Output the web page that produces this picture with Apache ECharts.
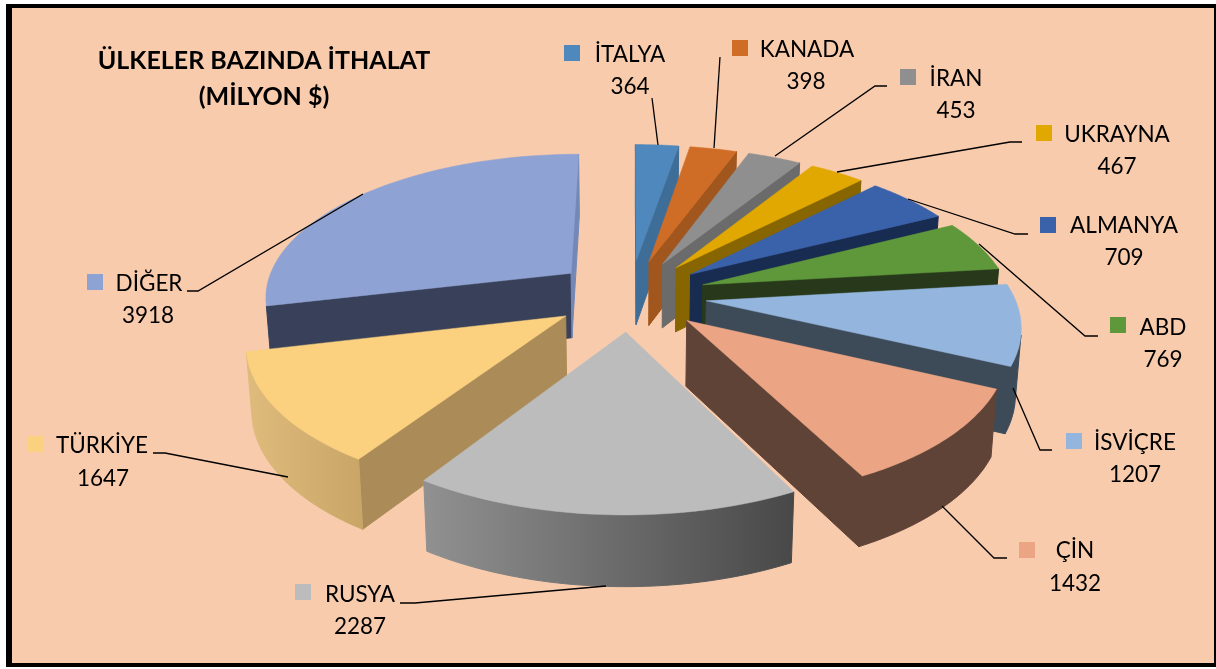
<!DOCTYPE html>
<html>
<head>
<meta charset="utf-8">
<title>Ülkeler Bazında İthalat</title>
<script src="https://cdn.jsdelivr.net/npm/echarts@6/dist/echarts.min.js"></script>
<style>
html, body { margin: 0; padding: 0; background: #fff; }
#main { width: 1216px; height: 669px; }
</style>
</head>
<body>
<div id="main"></div>
<script type="text/javascript">
// data, clockwise from the top of the pie
var countries = ['İTALYA', 'KANADA', 'İRAN', 'UKRAYNA', 'ALMANYA', 'ABD', 'İSVİÇRE', 'ÇİN', 'RUSYA', 'TÜRKİYE', 'DİĞER'];
var values = [364, 398, 453, 467, 709, 769, 1207, 1432, 2287, 1647, 3918];

// colours
var topColors = ['#4E88BC', '#CF6D26', '#8F8F8F', '#E0A800', '#3A62AB', '#5F983A', '#94B6DE', '#EBA584', '#BCBCBC', '#FBD07E', '#8EA2D4'];
var wallColors = ['#3E6E98', '#A0561C', '#6B6B6B', '#876500', '#182C52', '#27391A', '#3D4A58', '#604337', '#6B6B6B', '#AB8C58', '#39415A'];
var rimLeftColors = ['#3E6E98', '#A0561C', '#6B6B6B', '#876500', '#182C52', '#27391A', '#3D4A58', '#604337', '#919191', '#DFBC7C', '#7488B8'];
var rimRightColors = ['#3E6E98', '#A0561C', '#6B6B6B', '#876500', '#182C52', '#27391A', '#3D4A58', '#604337', '#484848', '#C9A667', '#7488B8'];
var endWallColors = ['#3E6E98', '#A0561C', '#6B6B6B', '#876500', '#182C52', '#27391A', '#3D4A58', '#604337', '#6B6B6B', '#AB8C58', '#7488B8'];

// 3d pie projection
var centerX = 630, centerY = 295;
var radiusX = 307.5, radiusY = 143;
var perspective = 0.15;
var explode = 0.25;
var depth = 65;

// label layout: key square, name centre, value centre, leader line
var labelLayout = [
    { key: [572, 53], name: [630, 55], value: [630, 87], line: [[652, 98], [658, 145]] },
    { key: [740, 48], name: [807, 50], value: [806, 82], line: [[720, 57], [714, 148]] },
    { key: [908, 77], name: [956, 79], value: [956, 111], line: [[887, 86], [875, 86], [775, 156]] },
    { key: [1044, 133], name: [1117, 135], value: [1117, 167], line: [[1022, 142], [1010, 142], [837, 172]] },
    { key: [1048, 225], name: [1124, 226], value: [1124, 258], line: [[1028, 234], [1015, 234], [908, 199]] },
    { key: [1118, 325], name: [1163, 328], value: [1163, 360], line: [[1098, 336], [1085, 336], [979, 244]] },
    { key: [1074, 441], name: [1135, 443], value: [1135, 475], line: [[1052, 450], [1040, 450], [1013, 388]] },
    { key: [1027, 550], name: [1075, 551], value: [1075, 584], line: [[1007, 558], [994, 558], [942, 506]] },
    { key: [303, 592], name: [360, 595], value: [360, 627], line: [[400, 603], [415, 603], [606, 586]] },
    { key: [36, 444], name: [102, 446], value: [103, 479], line: [[153, 453], [165, 453], [288, 477]] },
    { key: [95, 282], name: [149, 284], value: [148, 316], line: [[187, 291], [198, 291], [363, 194]] }
];

var total = 0;
for (var t = 0; t < values.length; t++) {
    total += values[t];
}

function project(u, v, down) {
    var w = 1 / (1 - perspective * v);
    var x = centerX + radiusX * u * w;
    var y = centerY + radiusY * v * w;
    if (down) {
        x = centerX + (x - centerX) * 0.985;
        y += depth * (1 + 0.45 * (w - 1));
    }
    return [x, y];
}

function signedArea(p) {
    var s = 0;
    for (var i = 0; i < p.length; i++) {
        var q = p[(i + 1) % p.length];
        s += p[i][0] * q[1] - q[0] * p[i][1];
    }
    return s;
}

function sliceRange(index) {
    var before = 0;
    for (var i = 0; i < index; i++) {
        before += values[i];
    }
    return [before / total * Math.PI * 2, (before + values[index]) / total * Math.PI * 2];
}

function polygon(points, fill, z2, width) {
    return {
        type: 'polygon',
        z2: z2,
        shape: { points: points },
        style: { fill: fill, stroke: fill, lineWidth: width }
    };
}

// back slices first, so nearer ones cover them
function depthRank(index) {
    var r = sliceRange(index);
    var mid = (r[0] + r[1]) / 2;
    return -Math.cos(mid);
}

function renderSlice(params, api) {
    var index = api.value(0);
    var r = sliceRange(index);
    var mid = (r[0] + r[1]) / 2;
    var offU = explode * Math.sin(mid);
    var offV = -explode * Math.cos(mid);
    var rank = Math.round((depthRank(index) + 1) * 100);

    var rimTop = [], rimBottom = [];
    var steps = 48;
    for (var i = 0; i <= steps; i++) {
        var a = r[0] + (r[1] - r[0]) * i / steps;
        var u = offU + Math.sin(a);
        var v = offV - Math.cos(a);
        rimTop.push(project(u, v, false));
        rimBottom.push(project(u, v, true));
    }
    var apexTop = project(offU, offV, false);
    var apexBottom = project(offU, offV, true);

    var children = [];

    // start wall
    var startWall = [apexTop, rimTop[0], rimBottom[0], apexBottom];
    if (signedArea(startWall) < 0) {
        children.push(polygon(startWall, wallColors[index], rank * 10 + 1, 1));
    }
    // end wall
    var endWall = [rimTop[steps], apexTop, apexBottom, rimBottom[steps]];
    if (signedArea(endWall) < 0) {
        children.push(polygon(endWall, endWallColors[index], rank * 10 + 1, 1));
    }
    // outer wall, only the part that faces the viewer
    var rimPoints = [];
    var rimBack = [];
    for (var j = 0; j < steps; j++) {
        var seg = [rimTop[j], rimTop[j + 1], rimBottom[j + 1], rimBottom[j]];
        if (signedArea(seg) < 0) {
            if (!rimPoints.length) {
                rimPoints.push(rimTop[j]);
                rimBack.push(rimBottom[j]);
            }
            rimPoints.push(rimTop[j + 1]);
            rimBack.push(rimBottom[j + 1]);
        }
    }
    if (rimPoints.length) {
        var rimFill = rimLeftColors[index];
        if (rimLeftColors[index] !== rimRightColors[index]) {
            rimFill = new echarts.graphic.LinearGradient(0, 0, 1, 0, [
                { offset: 0, color: rimLeftColors[index] },
                { offset: 1, color: rimRightColors[index] }
            ]);
        }
        var rimShape = rimPoints.concat(rimBack.reverse());
        children.push(polygon(rimShape, rimFill, rank * 10 + 2, 1));
    }
    // top face
    var topFace = [apexTop].concat(rimTop);
    children.push(polygon(topFace, topColors[index], rank * 10 + 3, 0.5));

    return { type: 'group', children: children };
}

var sliceOrder = [];
for (var n = 0; n < values.length; n++) {
    sliceOrder.push(n);
}
sliceOrder.sort(function (a, b) { return depthRank(a) - depthRank(b); });

var labelFont = 'Lato, "Open Sans", sans-serif';
// frame: heavy on the left, thin on the right
var graphics = [{
    type: 'rect',
    z: 0,
    shape: { x: 6, y: 4, width: 1210, height: 663 },
    style: { fill: '#000' }
}, {
    type: 'rect',
    z: 1,
    shape: { x: 12, y: 8, width: 1202, height: 655 },
    style: { fill: '#F8CBAD' }
}];

function addLabel(index) {
    var l = labelLayout[index];
    graphics.push({
        type: 'rect',
        z: 5,
        shape: { x: l.key[0] - 8, y: l.key[1] - 8, width: 16, height: 16 },
        style: { fill: topColors[index] }
    });
    graphics.push({
        type: 'polyline',
        z: 5,
        shape: { points: l.line },
        style: { fill: null, stroke: '#000', lineWidth: 1.3 }
    });
    graphics.push({
        type: 'text',
        z: 6,
        style: {
            x: l.name[0], y: l.name[1], text: countries[index], fill: '#000',
            font: '22.5px ' + labelFont, textAlign: 'center', textVerticalAlign: 'middle'
        }
    });
    graphics.push({
        type: 'text',
        z: 6,
        style: {
            x: l.value[0], y: l.value[1], text: String(values[index]), fill: '#000',
            font: '22.5px ' + labelFont, textAlign: 'center', textVerticalAlign: 'middle'
        }
    });
}
for (var g = 0; g < countries.length; g++) {
    addLabel(g);
}

var myChart = echarts.init(document.getElementById('main'));
var option = {
    backgroundColor: '#fff',
    animation: false,
    title: {
        text: 'ÜLKELER BAZINDA İTHALAT\n(MİLYON $)',
        left: 259,
        top: 38,
        textAlign: 'center',
        z: 6,
        textStyle: {
            fontFamily: 'Lato, "Open Sans", sans-serif',
            fontWeight: 'bold',
            fontSize: 25,
            lineHeight: 36,
            color: '#000'
        }
    },
    graphic: { elements: graphics },
    series: [{
        type: 'custom',
        coordinateSystem: 'none',
        z: 3,
        renderItem: renderSlice,
        encode: { value: 0 },
        data: sliceOrder.map(function (i) { return [i]; })
    }]
};
myChart.setOption(option);
</script>
</body>
</html>
